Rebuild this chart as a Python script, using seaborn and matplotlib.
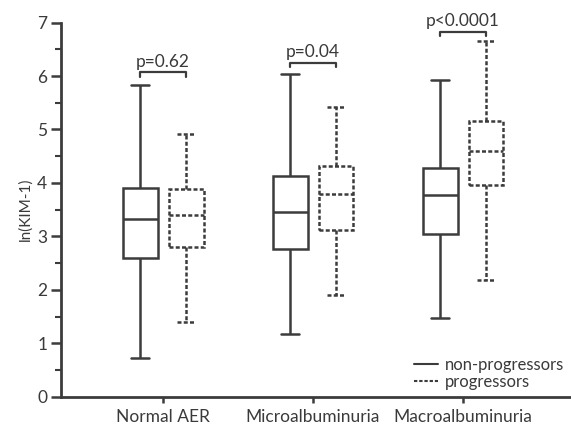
import matplotlib
matplotlib.use("Agg")
import matplotlib.pyplot as plt
from matplotlib.lines import Line2D
import seaborn as sns
import pandas as pd

categories = ["Normal AER", "Microalbuminuria", "Macroalbuminuria"]
groups = ["non-progressors", "progressors"]
# five-number summaries: min, Q1, median, Q3, max
non_prog = [
    [0.72, 2.60, 3.32, 3.91, 5.84],
    [1.17, 2.76, 3.46, 4.13, 6.04],
    [1.48, 3.05, 3.77, 4.28, 5.93],
]
prog = [
    [1.40, 2.81, 3.40, 3.88, 4.91],
    [1.90, 3.11, 3.79, 4.31, 5.43],
    [2.18, 3.96, 4.60, 5.15, 6.65],
]
p_labels = ["p=0.62", "p=0.04", "p<0.0001"]
bracket_y = [6.07, 6.25, 6.83]
yticks = [0, 1, 2, 3, 4, 5, 6, 7]

rows = []
for ci, cat in enumerate(categories):
    for g, vals in zip(groups, [non_prog[ci], prog[ci]]):
        for v in vals:
            rows.append({"cat": cat, "group": g, "val": v})
df = pd.DataFrame(rows)

sns.set_theme(style="ticks")
plt.rcParams["font.family"] = ["Lato", "DejaVu Sans"]

col = "#3c3c3c"
tcol = "#3a3a3a"
fig = plt.figure(figsize=(5.71, 4.29), dpi=100)
ax = fig.add_axes([0.107, 0.0753, 0.893, 0.872])

sns.boxplot(data=df, x="cat", y="val", hue="group", order=categories,
            hue_order=groups, whis=(0, 100), width=0.613, gap=0.24,
            fill=True, color="white", linecolor=col, linewidth=1.8,
            showfliers=False, legend=False, ax=ax)

for patch in ax.patches:
    patch.set_facecolor("white")
    patch.set_edgecolor(col)

dash = (0, (1.6, 0.9))
cont = ax.containers[1]
for art in list(cont.boxes) + list(cont.whiskers) + list(cont.caps) + list(cont.medians):
    art.set_linestyle(dash)

ax.set_xlim(-0.68, 2.72)
ax.set_ylim(0, 7)
ax.set_yticks(yticks)
ax.set_yticks([y + 0.5 for y in yticks[:-1]], minor=True)
ax.set_xlabel("")
ax.set_ylabel("ln(KIM-1)", fontsize=11, color=tcol, labelpad=3)

ax.tick_params(axis="y", which="major", length=7, width=1.8, color=col,
               labelsize=12.5, labelcolor=tcol, pad=3)
ax.tick_params(axis="y", which="minor", length=4, width=1.5, color=col)
ax.tick_params(axis="x", length=4, width=1.8, color=col, labelsize=12.5,
               labelcolor=tcol, pad=5)
sns.despine(ax=ax)
for s in ["left", "bottom"]:
    ax.spines[s].set_linewidth(2)
    ax.spines[s].set_color(col)

off = 0.153
for i, (lab, by) in enumerate(zip(p_labels, bracket_y)):
    x0, x1 = i - off, i + off
    ax.plot([x0, x0, x1, x1], [by - 0.08, by, by, by - 0.08], color=col,
            lw=1.6, clip_on=False)
    ax.text(i, by + 0.05, lab, ha="center", va="bottom", fontsize=12.5,
            color=tcol, clip_on=False)

handles = [Line2D([], [], color=col, lw=1.5),
           Line2D([], [], color=col, lw=1.5, linestyle=(0, (1.6, 0.9)))]
ax.legend(handles, groups, loc="upper left", bbox_to_anchor=(0.68, 0.124),
          frameon=False, fontsize=12, handlelength=1.4, handletextpad=0.45,
          labelspacing=0.05, borderaxespad=0, labelcolor=tcol)

fig.savefig("out.png", dpi=100)
